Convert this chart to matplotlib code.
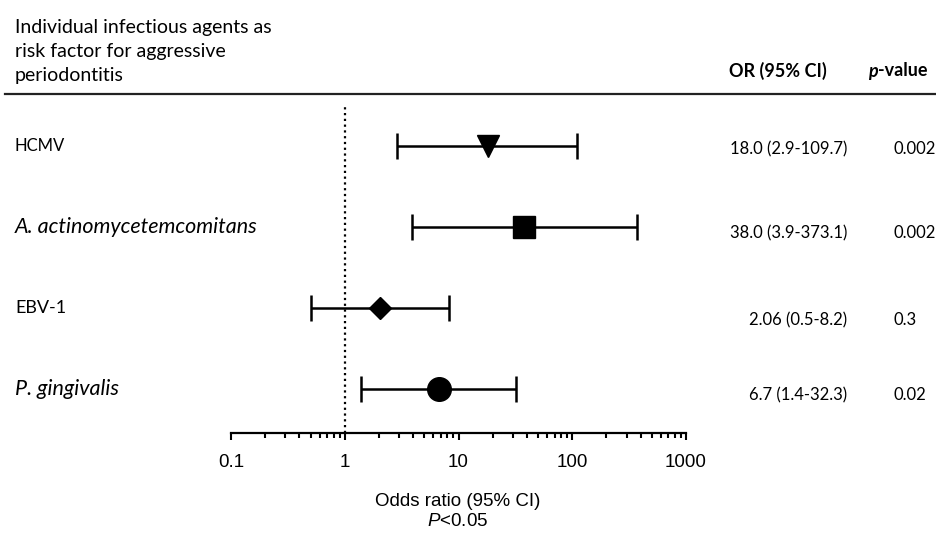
import matplotlib
matplotlib.use("Agg")
import matplotlib.pyplot as plt
from matplotlib.lines import Line2D
from matplotlib.transforms import blended_transform_factory

plt.rcParams['mathtext.fontset'] = 'custom'
plt.rcParams['mathtext.it'] = 'Liberation Sans:italic'
plt.rcParams['mathtext.rm'] = 'Liberation Sans'

# data
agents = ['HCMV', 'A. actinomycetemcomitans', 'EBV-1', 'P. gingivalis']
italic = [False, True, False, True]
label_sizes = [12, 15.5, 13, 15.5]
odds = [18.0, 38.0, 2.06, 6.7]
ci_low = [2.9, 3.9, 0.5, 1.4]
ci_high = [109.7, 373.1, 8.2, 32.3]
or_labels = ['18.0 (2.9-109.7)', '38.0 (3.9-373.1)', '2.06 (0.5-8.2)', '6.7 (1.4-32.3)']
p_values = ['0.002', '0.002', '0.3', '0.02']
markers = ['v', 's', 'D', 'o']
marker_sizes = [16, 16.5, 11, 17]

W, H = 936, 536
fig = plt.figure(figsize=(W / 100, H / 100), dpi=100)

def fx(px):
    return px / W

def fy(py):
    return 1 - py / H

# axes spans x 231..686 px, y 105..433 px
ax = fig.add_axes([fx(231), fy(433), fx(686) - fx(231), fy(105) - fy(433)])
rows = [4, 3, 2, 1]
ax.set_xscale('log')
ax.set_xlim(0.1, 1000)
ax.set_ylim(1 - 44 / 81, 4 + 41 / 81)

for y, o, lo, hi, m, ms in zip(rows, odds, ci_low, ci_high, markers, marker_sizes):
    ax.errorbar(o, y, xerr=[[o - lo], [hi - o]], fmt=m, color='black', ms=ms,
                elinewidth=1.8, capsize=9.4, capthick=1.8, zorder=3)

ax.axvline(1, color='black', linestyle=(0, (1, 1.6)), linewidth=1.6, zorder=1)

for s in ['top', 'right', 'left']:
    ax.spines[s].set_visible(False)
ax.spines['bottom'].set_linewidth(1.6)
ax.set_yticks([])
ax.set_xticks([0.1, 1, 10, 100, 1000])
ax.set_xticklabels(['0.1', '1', '10', '100', '1000'], fontfamily='Liberation Sans', fontsize=13.5)
ax.tick_params(axis='x', which='major', length=5, width=1.5, pad=10)
ax.tick_params(axis='x', which='minor', length=3.5, width=1.5)

# header
fig.text(fx(15), fy(52), 'Individual infectious agents as\nrisk factor for aggressive\nperiodontitis',
         family='Lato', fontsize=14, va='center', ha='left', linespacing=1.5)
fig.text(fx(778), fy(71), 'OR (95% CI)', family='Lato', fontweight='bold', fontsize=13,
         ha='center', va='center')
ptxt = fig.text(fx(868), fy(71), 'p', family='Lato', fontweight='bold', style='italic',
                fontsize=13, ha='left', va='center')
fig.canvas.draw()
pw = ptxt.get_window_extent().width
fig.text(fx(868) + pw / W, fy(71), '-value', family='Lato', fontweight='bold', fontsize=13,
         ha='left', va='center')
fig.add_artist(Line2D([fx(5), 1], [fy(94), fy(94)], color='#222222', linewidth=1.6))

# row labels
trans = blended_transform_factory(fig.transFigure, ax.transData)
for y, name, it, fs in zip(rows, agents, italic, label_sizes):
    ax.text(fx(15), y, name, transform=trans, family='Lato', fontsize=fs,
            style='italic' if it else 'normal', ha='left', va='center')

# OR and p-value columns
col_y = [149, 233, 320, 395]
for py, lab, p in zip(col_y, or_labels, p_values):
    fig.text(fx(847), fy(py), lab, family='Lato', fontsize=12, ha='right', va='center')
    fig.text(fx(894), fy(py), p, family='Lato', fontsize=12, ha='left', va='center')

# x label
fig.text(fx(458), fy(502), 'Odds ratio (95% CI)', family='Liberation Sans', fontsize=13.5,
         ha='center', va='center')
fig.text(fx(458), fy(522), r'$\it{P}$<0.05', family='Liberation Sans', fontsize=13.5,
         ha='center', va='center')

fig.savefig('out.png', dpi=100, facecolor='white')
